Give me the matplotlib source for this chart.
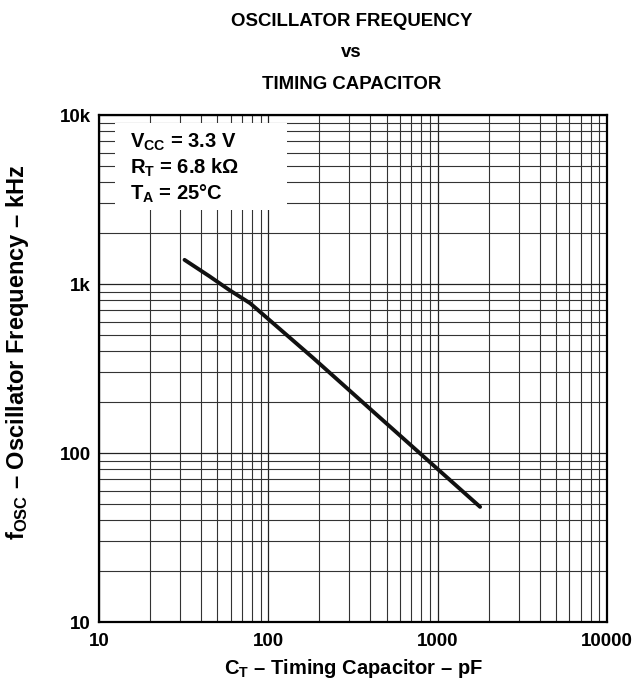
import matplotlib
matplotlib.use("Agg")
import matplotlib.pyplot as plt
from matplotlib.patches import Rectangle
from matplotlib.ticker import FixedLocator, LogLocator, NullFormatter

# curve
cap_pf = [32, 45, 59, 78, 184, 400, 800, 1780]
freq_khz = [1390, 1110, 920, 770, 365, 182, 98, 48]

xticks = [10, 100, 1000, 10000]
xticklabels = ["10", "100", "1000", "10000"]
yticks = [10, 100, 1000, 10000]
yticklabels = ["10", "100", "1k", "10k"]

plt.rcParams['font.family'] = 'Liberation Sans'
plt.rcParams['font.weight'] = 'bold'
plt.rcParams['mathtext.fontset'] = 'custom'
plt.rcParams['mathtext.rm'] = 'Liberation Sans:bold'
plt.rcParams['mathtext.it'] = 'Liberation Sans:bold'
plt.rcParams['mathtext.bf'] = 'Liberation Sans:bold'

fig = plt.figure(figsize=(6.37, 6.88), dpi=100)
ax = fig.add_axes([0.1554, 0.0959, 0.7976, 0.7369])

ax.set_xscale('log')
ax.set_yscale('log')
ax.set_xlim(10, 10000)
ax.set_ylim(10, 10000)

ax.xaxis.set_major_locator(FixedLocator(xticks))
ax.yaxis.set_major_locator(FixedLocator(yticks))
ax.xaxis.set_minor_locator(LogLocator(base=10, subs=range(2, 10)))
ax.yaxis.set_minor_locator(LogLocator(base=10, subs=range(2, 10)))
ax.xaxis.set_minor_formatter(NullFormatter())
ax.yaxis.set_minor_formatter(NullFormatter())
ax.set_xticklabels(xticklabels)
ax.set_yticklabels(yticklabels)
ax.tick_params(which='both', length=0, labelsize=13.5)
ax.tick_params(axis='x', pad=8)
ax.tick_params(axis='y', pad=6)

ax.grid(True, which='major', color='#222222', lw=0.9)
ax.grid(True, which='minor', color='#333333', lw=0.8)
for s in ax.spines.values():
    s.set_linewidth(1.6)
    s.set_zorder(5)

ax.plot(cap_pf, freq_khz, color='#111111', lw=2.8, solid_capstyle='round', zorder=3)

# white box behind the conditions
ax.add_patch(Rectangle((0.0315, 0.8126), 0.3385, 0.1716, transform=ax.transAxes,
                       facecolor='white', edgecolor='none', zorder=4))
ax.text(0.061, 0.968, "V$_{CC}$ = 3.3 V\nR$_{T}$ = 6.8 k$\\Omega$\nT$_{A}$ = 25°C",
        transform=ax.transAxes, ha='left', va='top', fontsize=14.5, fontweight='bold',
        linespacing=1.22, zorder=5)

fig.text(0.555, 1 - 668 / 688, "C$_{T}$ – Timing Capacitor – pF",
         ha='center', va='center', fontsize=14.5, fontweight='bold')
fig.text(18 / 637, 1 - 352 / 688, "f$_{OSC}$ – Oscillator Frequency – kHz",
         ha='center', va='center', rotation=90, fontsize=17, fontweight='bold')

fig.text(0.552, 0.969, "OSCILLATOR FREQUENCY", ha='center', va='center', fontsize=13.4, fontweight='bold')
fig.text(0.552, 0.923, "vs", ha='center', va='center', fontsize=13.4, fontweight='bold')
fig.text(0.552, 0.877, "TIMING CAPACITOR", ha='center', va='center', fontsize=13.4, fontweight='bold')

fig.savefig("out.png", dpi=100)
